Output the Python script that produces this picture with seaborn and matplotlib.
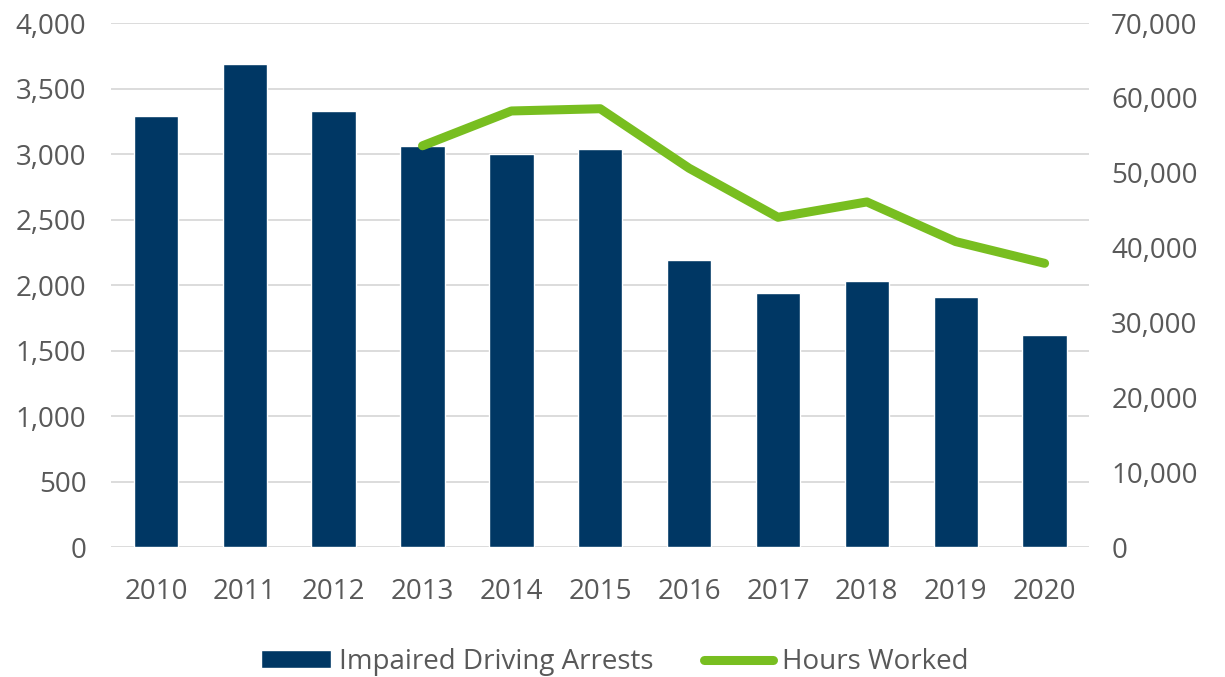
import numpy as np
import pandas as pd
import matplotlib
matplotlib.use('Agg')
import matplotlib.pyplot as plt
import seaborn as sns
from matplotlib.ticker import FuncFormatter, MultipleLocator
from matplotlib.patches import Patch
from matplotlib.lines import Line2D

# dados
anos = ['2010', '2011', '2012', '2013', '2014', '2015', '2016', '2017', '2018', '2019', '2020']
prisoes = [3290, 3690, 3330, 3065, 3000, 3040, 2190, 1940, 2030, 1910, 1620]
horas = [np.nan, np.nan, np.nan, 53600, 58250, 58550, 50600, 44050, 46100, 40800, 37900]

cor_barra = '#003764'
cor_linha = '#78BE20'
cor_texto = '#595959'

df = pd.DataFrame({'ano': anos, 'prisoes': prisoes, 'horas': horas})
df['pos'] = range(len(df))

sns.set_theme(style='white')
plt.rcParams['font.family'] = ['Open Sans', 'DejaVu Sans']

fig = plt.figure(figsize=(12.25, 6.77), dpi=100)
ax = fig.add_axes([0.091, 0.192, 0.798, 0.774])

sns.barplot(data=df, x='ano', y='prisoes', color=cor_barra, width=0.5,
            saturation=1, ax=ax, zorder=2)
ax.set_ylim(0, 4000)
ax.yaxis.set_major_locator(MultipleLocator(500))
ax.yaxis.set_major_formatter(FuncFormatter(lambda v, p: f'{v:,.0f}'))
ax.grid(axis='y', color='#D9D9D9', linewidth=1.3, zorder=0)
ax.set_axisbelow(True)
ax.set_xlim(-0.5, len(anos) - 0.5)
ax.set_xlabel('')
ax.set_ylabel('')

ax2 = ax.twinx()
sns.lineplot(data=df, x='pos', y='horas', color=cor_linha, linewidth=6.5,
             ax=ax2, solid_capstyle='round', zorder=3)
ax2.set_ylim(0, 70000)
ax2.yaxis.set_major_locator(MultipleLocator(10000))
ax2.yaxis.set_major_formatter(FuncFormatter(lambda v, p: f'{v:,.0f}'))
ax2.set_ylabel('')
ax2.set_xlabel('')
ax.set_xlim(-0.5, len(anos) - 0.5)

for a in (ax, ax2):
    for s in a.spines.values():
        s.set_visible(False)
    a.tick_params(axis='both', length=0, labelsize=20, colors=cor_texto)
ax.tick_params(axis='x', pad=22)
ax.tick_params(axis='y', pad=18)
ax2.tick_params(axis='y', pad=16)

handles = [Patch(facecolor=cor_barra, label='Impaired Driving Arrests'),
           Line2D([0], [0], color=cor_linha, linewidth=6.5, solid_capstyle='round',
                  label='Hours Worked')]
fig.legend(handles=handles, loc='center', bbox_to_anchor=(0.502, 0.022), ncol=2,
           frameon=False, fontsize=20, labelcolor=cor_texto, handlelength=2.5,
           handleheight=0.6, handletextpad=0.32, columnspacing=1.8)

fig.savefig('out.png', dpi=100)
